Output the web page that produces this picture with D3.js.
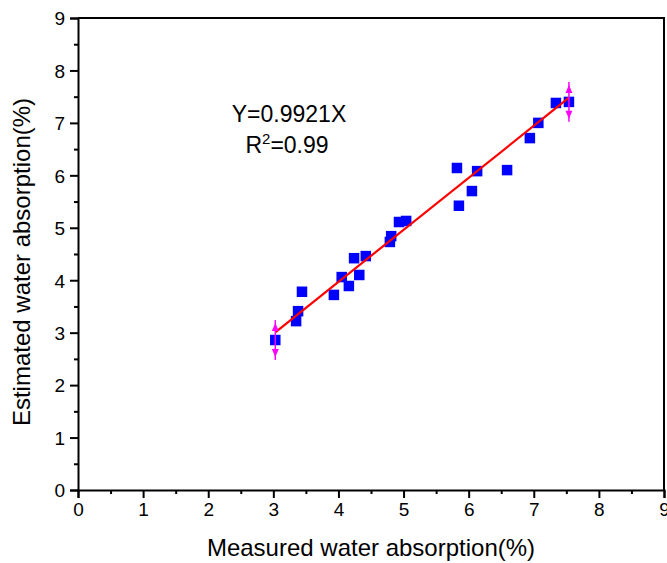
<!DOCTYPE html>
<html>
<head>
<meta charset="utf-8">
<script src="https://cdn.jsdelivr.net/npm/d3@7"></script>
<style>
  html, body { margin: 0; padding: 0; background: #fff; }
  svg { display: block; font-family: "Liberation Sans", Arial, sans-serif; }
</style>
</head>
<body>
<svg id="chart" width="667" height="563"></svg>
<script>
// Measured vs. estimated water absorption (%)
const measured  = [3.03, 3.35, 3.38, 3.44, 3.93, 4.05, 4.16, 4.24, 4.32, 4.42,
                   4.79, 4.81, 4.93, 5.04, 5.82, 5.85, 6.05, 6.13, 6.59, 6.94,
                   7.07, 7.34, 7.54];
const estimated = [2.86, 3.22, 3.41, 3.78, 3.72, 4.06, 3.89, 4.42, 4.10, 4.46,
                   4.73, 4.84, 5.11, 5.13, 6.14, 5.42, 5.70, 6.08, 6.10, 6.71,
                   7.00, 7.38, 7.40];

// Fitted line through the origin
const slope = 0.9921;
const rSquared = "0.99";

// Error bars at the two end points
const errX = [3.03, 7.54];
const errY = [2.86, 7.40];
const errHalf = [0.38, 0.38];

const tickValues = [0, 1, 2, 3, 4, 5, 6, 7, 8, 9];
const minorTicks = [0.5, 1.5, 2.5, 3.5, 4.5, 5.5, 6.5, 7.5, 8.5];

const svg = d3.select("#chart");
const plotLeft = 78, plotRight = 664, plotTop = 18, plotBottom = 490;

const x = d3.scaleLinear().domain([0, 9]).range([plotLeft, plotRight]);
const y = d3.scaleLinear().domain([0, 9]).range([plotBottom, plotTop]);

// Frame (top and right edges)
svg.append("path")
  .attr("d", `M${plotLeft},${plotTop}H${plotRight}V${plotBottom}`)
  .attr("fill", "none").attr("stroke", "#000").attr("stroke-width", 2);

// Axes with outward major and minor ticks
const xAxis = svg.append("g").attr("transform", `translate(0,${plotBottom})`)
  .call(d3.axisBottom(x).tickValues(tickValues).tickFormat(d3.format("d"))
    .tickSize(8).tickPadding(5));
svg.append("g").attr("transform", `translate(0,${plotBottom})`)
  .call(d3.axisBottom(x).tickValues(minorTicks).tickFormat("").tickSize(4))
  .select(".domain").remove();

const yAxis = svg.append("g").attr("transform", `translate(${plotLeft},0)`)
  .call(d3.axisLeft(y).tickValues(tickValues).tickFormat(d3.format("d"))
    .tickSize(8).tickPadding(5));
svg.append("g").attr("transform", `translate(${plotLeft},0)`)
  .call(d3.axisLeft(y).tickValues(minorTicks).tickFormat("").tickSize(4))
  .select(".domain").remove();

svg.selectAll(".domain").attr("stroke-width", 2);
svg.selectAll(".tick line").attr("stroke-width", 2);
svg.selectAll(".tick text").attr("font-size", 19).attr("fill", "#000")
  .attr("font-family", "Liberation Sans, Arial, sans-serif");
yAxis.selectAll(".tick text").attr("dy", "0.36em");

// Axis titles
svg.append("text")
  .attr("x", (plotLeft + plotRight) / 2).attr("y", 556)
  .attr("text-anchor", "middle").attr("font-size", 24)
  .text("Measured water absorption(%)");
svg.append("text")
  .attr("transform", `translate(30,${(plotTop + plotBottom) / 2 + 8}) rotate(-90)`)
  .attr("text-anchor", "middle").attr("font-size", 24)
  .text("Estimated water absorption(%)");

// Data points
const size = 10.5;
svg.append("g").selectAll("rect")
  .data(d3.zip(measured, estimated))
  .join("rect")
  .attr("x", d => x(d[0]) - size / 2)
  .attr("y", d => y(d[1]) - size / 2)
  .attr("width", size).attr("height", size)
  .attr("fill", "#0000ff");

// Fitted line
const x0 = d3.min(measured), x1 = d3.max(measured);
svg.append("line")
  .attr("x1", x(x0)).attr("y1", y(slope * x0))
  .attr("x2", x(x1)).attr("y2", y(slope * x1))
  .attr("stroke", "#ff0000").attr("stroke-width", 2.2);

// Error bars with arrow caps
const eb = svg.append("g").attr("fill", "#ff00ff").attr("stroke", "#ff00ff");
d3.range(errX.length).forEach(i => {
  const cx = x(errX[i]);
  const yt = y(errY[i] + errHalf[i]);
  const yb = y(errY[i] - errHalf[i]);
  eb.append("line").attr("x1", cx).attr("x2", cx).attr("y1", yt).attr("y2", yb)
    .attr("stroke-width", 1.5);
  eb.append("path").attr("stroke", "none")
    .attr("d", `M${cx},${yt + 3}L${cx + 3.5},${yt + 11}L${cx - 3.5},${yt + 11}Z`);
  eb.append("path").attr("stroke", "none")
    .attr("d", `M${cx},${yb - 3}L${cx + 3.5},${yb - 11}L${cx - 3.5},${yb - 11}Z`);
});

// Regression annotation
const ann = svg.append("text").attr("text-anchor", "middle").attr("font-size", 23);
ann.append("tspan").attr("x", 289).attr("y", 122).text(`Y=${slope}X`);
const r2 = svg.append("text").attr("text-anchor", "middle").attr("font-size", 23)
  .attr("x", 287).attr("y", 153);
r2.append("tspan").text("R");
r2.append("tspan").attr("font-size", 15).attr("dy", -9).text("2");
r2.append("tspan").attr("dy", 9).text(`=${rSquared}`);
</script>
</body>
</html>
